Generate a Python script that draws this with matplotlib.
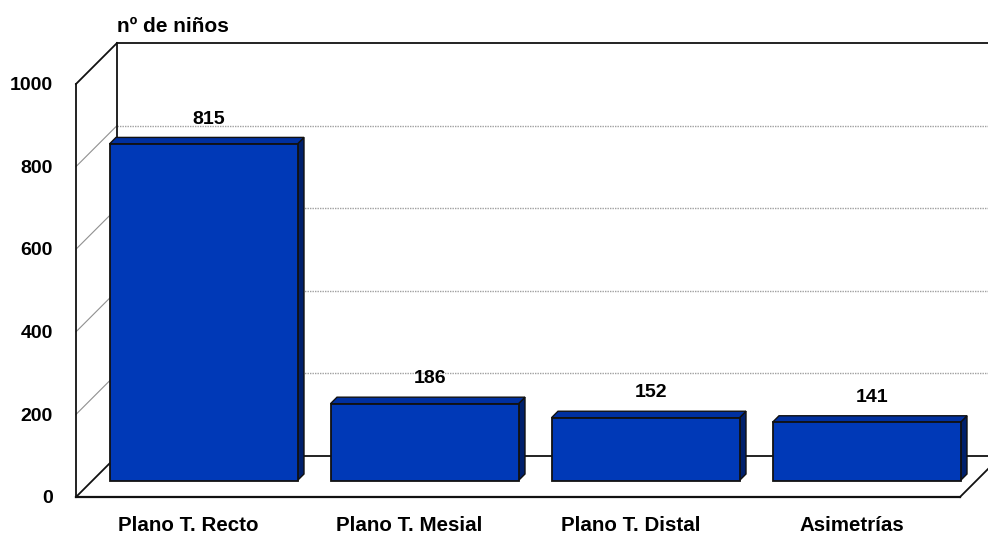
import matplotlib
matplotlib.use('Agg')
import matplotlib.pyplot as plt
from matplotlib.patches import Polygon

plt.rcParams['font.family'] = ['Liberation Sans', 'DejaVu Sans']
plt.rcParams['font.weight'] = 'bold'

categories = ['Plano T. Recto', 'Plano T. Mesial', 'Plano T. Distal', 'Asimetrías']
values = [815, 186, 152, 141]
y_ticks = [0, 200, 400, 600, 800, 1000]
y_title = 'nº de niños'

# layout in pixels of the 988x535 picture
PX_PER_UNIT = 0.413
FRONT_X, BACK_X, RIGHT_X = 76, 117, 960
FRONT_Y = 497
DEPTH = 41 / PX_PER_UNIT      # wall depth in value units
BAR_LIFT = 16.5 / PX_PER_UNIT # bars stand this far behind the front edge
BAR_DX, BAR_DY = 6.5, 6.5 / PX_PER_UNIT
BAR_LEFT = 109.5
BAR_W = 188
BAR_STEP = 221

FACE = '#0039b7'
TOP = '#0030a0'
SIDE = '#00206c'
LINE = '#111111'

fig = plt.figure(figsize=(9.88, 5.35), dpi=100)
ax = fig.add_axes([0, 0, 1, 1])
ax.set_xlim(0, 988)
ax.set_ylim((FRONT_Y - 535) / PX_PER_UNIT, FRONT_Y / PX_PER_UNIT)
ax.axis('off')

ymax = y_ticks[-1]

# gridlines on back wall and side wall
for t in y_ticks[1:-1]:
    ax.plot([BACK_X, 988], [t + DEPTH] * 2, color='#a0a0a0', lw=1, ls=(0, (1, 0.8)), zorder=1)
    ax.plot([FRONT_X, BACK_X], [t, t + DEPTH], color='#909090', lw=0.8, zorder=1)

# box outline
ax.plot([BACK_X, 988], [ymax + DEPTH] * 2, color=LINE, lw=1.3, zorder=2)
ax.plot([BACK_X, BACK_X], [DEPTH, ymax + DEPTH], color=LINE, lw=1.3, zorder=2)
ax.plot([BACK_X, 988], [DEPTH, DEPTH], color=LINE, lw=1.3, zorder=2)
ax.plot([FRONT_X, FRONT_X], [0, ymax], color=LINE, lw=1.3, zorder=2)
ax.plot([FRONT_X, BACK_X], [ymax, ymax + DEPTH], color=LINE, lw=1.3, zorder=2)
ax.plot([FRONT_X, BACK_X], [0, DEPTH], color=LINE, lw=1.3, zorder=2)
ax.plot([FRONT_X, RIGHT_X], [0, 0], color=LINE, lw=1.6, zorder=2)
ax.plot([RIGHT_X, 988], [0, 28 / PX_PER_UNIT], color=LINE, lw=1.3, zorder=2)

for i, (name, v) in enumerate(zip(categories, values)):
    x0 = BAR_LEFT + i * BAR_STEP
    x1 = x0 + BAR_W
    y0 = BAR_LIFT
    y1 = BAR_LIFT + v
    ax.add_patch(Polygon([(x1, y0), (x1 + BAR_DX, y0 + BAR_DY), (x1 + BAR_DX, y1 + BAR_DY), (x1, y1)],
                         fc=SIDE, ec=LINE, lw=1, zorder=3))
    ax.add_patch(Polygon([(x0, y1), (x0 + BAR_DX, y1 + BAR_DY), (x1 + BAR_DX, y1 + BAR_DY), (x1, y1)],
                         fc=TOP, ec=LINE, lw=1, zorder=3))
    ax.add_patch(Polygon([(x0, y0), (x1, y0), (x1, y1), (x0, y1)],
                         fc=FACE, ec=LINE, lw=1.3, zorder=4))
    ax.text((x0 + x1) / 2 + 5.5, y1 + 60, str(v), ha='center', va='center', fontsize=14, zorder=5)
    ax.text((x0 + x1) / 2 - 15, -70, name, ha='center', va='center', fontsize=14.8, zorder=5)

for t in y_ticks:
    ax.text(53, t - 4, str(t), ha='right', va='center', fontsize=14)

ax.text(117, ymax + DEPTH + 40, y_title, ha='left', va='center', fontsize=15)

fig.savefig('out.png', dpi=100)
